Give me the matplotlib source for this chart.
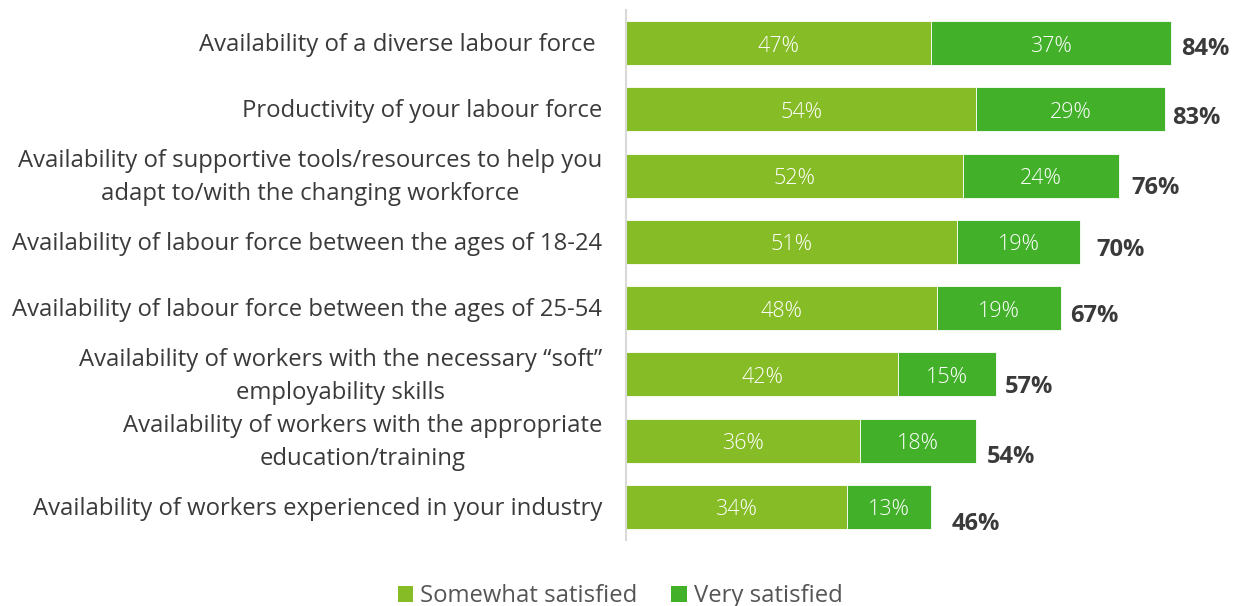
import matplotlib.pyplot as plt
from matplotlib.patches import Patch

plt.rcParams['font.family'] = ['Open Sans', 'DejaVu Sans']

categories = [
    "Availability of a diverse labour force ",
    "Productivity of your labour force",
    "Availability of supportive tools/resources to help you\nadapt to/with the changing workforce",
    "Availability of labour force between the ages of 18-24",
    "Availability of labour force between the ages of 25-54",
    "Availability of workers with the necessary \u201csoft\u201d\nemployability skills",
    "Availability of workers with the appropriate\neducation/training",
    "Availability of workers experienced in your industry",
]
somewhat = [47, 54, 52, 51, 48, 42, 36, 34]
very = [37, 29, 24, 19, 19, 15, 18, 13]
totals = [84, 83, 76, 70, 67, 57, 54, 46]
series_names = ["Somewhat satisfied", "Very satisfied"]

LIGHT = "#86BC25"
DARK = "#43B02A"
TEXT = "#3a3a3a"

# per-row nudges (pixels) for the total labels
total_dx = [10, 8, 12, 16, 9, 9, 10, 21]
total_dy = [6, 9, 12, 8, 8, 13, 16, 17]

W, H = 1233, 606
fig = plt.figure(figsize=(W / 100, H / 100), dpi=100)
ax = fig.add_axes([626 / W, 1 - 540 / H, 1 - 626 / W, 530 / H])

y = list(range(len(categories)))
ax.barh(y, somewhat, height=0.664, color=LIGHT, edgecolor="white", linewidth=0.6)
ax.barh(y, very, left=somewhat, height=0.664, color=DARK, edgecolor="white", linewidth=0.6)

ax.set_xlim(0, (W - 626) / 6.488)
ax.set_ylim(len(categories) - 0.5, -0.5)

PX = 0.72  # points per pixel at 100 dpi
for i in y:
    for x, v in ((somewhat[i] / 2, somewhat[i]), (somewhat[i] + very[i] / 2, very[i])):
        ax.annotate(f"{v}%", xy=(x, i), xytext=(0, -3 * PX), textcoords="offset points",
                    ha="center", va="center", color="white", fontsize=15.5,
                    fontweight="light")
    end = somewhat[i] + very[i]
    ax.annotate(f"{totals[i]}%", xy=(end, i), xytext=(total_dx[i] * PX, -total_dy[i] * PX),
                textcoords="offset points", ha="left", va="center",
                color=TEXT, fontsize=17, fontweight="bold")
    ax.annotate(categories[i], xy=(0, i), xytext=(-24 * PX, -2 * PX), textcoords="offset points",
                ha="right", va="center", multialignment="center",
                color=TEXT, fontsize=17.2, linespacing=1.5)

ax.set_xticks([])
ax.set_yticks([])
for s in ["top", "right", "bottom"]:
    ax.spines[s].set_visible(False)
ax.spines["left"].set_color("#d9d9d9")
ax.spines["left"].set_linewidth(1.5)

handles = [Patch(facecolor=LIGHT), Patch(facecolor=DARK)]
fig.legend(handles, series_names, loc="lower center", bbox_to_anchor=(0.503, -0.039),
           ncol=2, frameon=False, fontsize=17.2, handlelength=0.65, handleheight=0.65,
           handletextpad=0.3, columnspacing=1.4, labelcolor="#555555")

fig.savefig("out.png", dpi=100)
